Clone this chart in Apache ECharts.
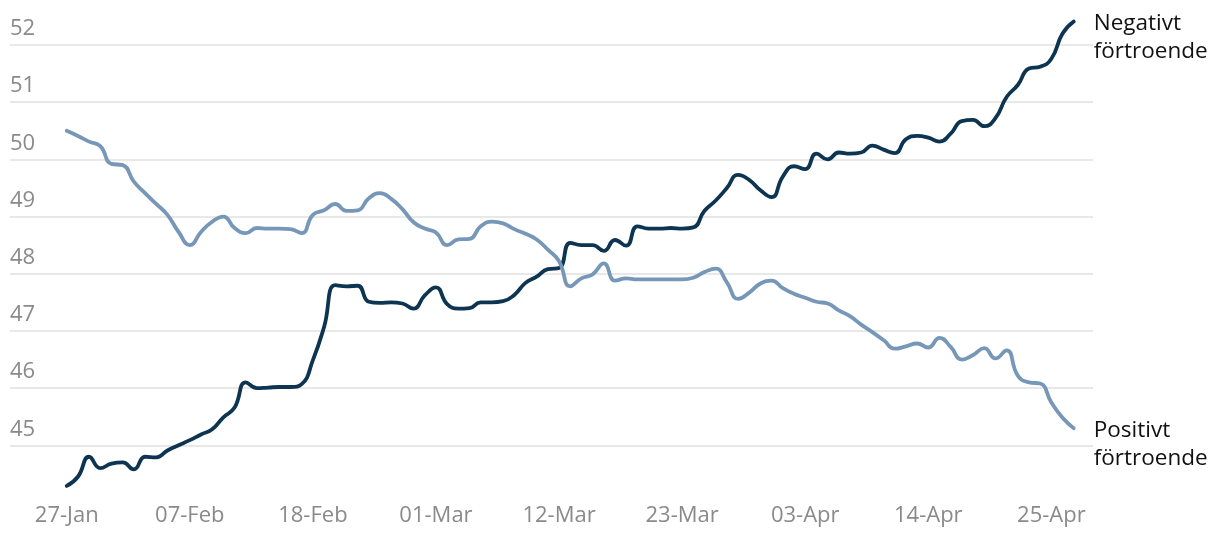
<!DOCTYPE html>
<html>
<head>
<meta charset="utf-8">
<script src="https://cdn.jsdelivr.net/npm/echarts@6/dist/echarts.min.js"></script>
<style>
html,body{margin:0;padding:0;background:#fff;}
#c{width:1220px;height:538px;}
</style>
</head>
<body>
<div id="c"></div>
<script>
// Day index 0 = 27-Jan, one value per day up to 27-Apr
const tickDays = [0, 11, 22, 33, 44, 55, 66, 77, 88];
const tickLabels = ['27-Jan', '07-Feb', '18-Feb', '01-Mar', '12-Mar', '23-Mar', '03-Apr', '14-Apr', '25-Apr'];
const seriesNames = ['Negativt\nförtroende', 'Positivt\nförtroende'];

const negative = [
  44.29, 44.45, 44.80, 44.60, 44.68, 44.70, 44.58, 44.80, 44.79, 44.91,
  45.00, 45.09, 45.19, 45.28, 45.49, 45.66, 46.10, 46.00, 46.01, 46.02,
  46.02, 46.07, 46.49, 47.07, 47.80, 47.78, 47.79, 47.51, 47.49, 47.50,
  47.48, 47.39, 47.62, 47.76, 47.47, 47.39, 47.40, 47.50, 47.50, 47.52,
  47.63, 47.84, 47.95, 48.08, 48.10, 48.54, 48.50, 48.50, 48.40, 48.59,
  48.49, 48.83, 48.79, 48.79, 48.80, 48.79, 48.81, 49.10, 49.28, 49.50,
  49.73, 49.64, 49.46, 49.34, 49.70, 49.88, 49.83, 50.10, 50.00, 50.12,
  50.10, 50.12, 50.24, 50.17, 50.11, 50.35, 50.41, 50.38, 50.31, 50.45,
  50.67, 50.69, 50.58, 50.72, 51.09, 51.30, 51.59, 51.62, 51.76, 52.20,
  52.41
];

const positive = [
  50.50, 50.41, 50.31, 50.23, 49.92, 49.90, 49.61, 49.41, 49.22, 49.03,
  48.73, 48.50, 48.73, 48.91, 49.00, 48.80, 48.71, 48.80, 48.79, 48.79,
  48.78, 48.71, 49.03, 49.11, 49.22, 49.10, 49.11, 49.32, 49.41, 49.31,
  49.13, 48.90, 48.79, 48.72, 48.50, 48.60, 48.61, 48.83, 48.91, 48.88,
  48.78, 48.70, 48.60, 48.42, 48.22, 47.78, 47.92, 47.99, 48.18, 47.88,
  47.92, 47.90, 47.90, 47.90, 47.90, 47.90, 47.93, 48.03, 48.09, 47.85,
  47.56, 47.67, 47.83, 47.88, 47.75, 47.65, 47.58, 47.51, 47.48, 47.36,
  47.26, 47.11, 46.98, 46.84, 46.69, 46.73, 46.78, 46.71, 46.88, 46.72,
  46.50, 46.58, 46.70, 46.52, 46.66, 46.22, 46.10, 46.08, 45.75, 45.48,
  45.30
];

const FONT = '"Open Sans", "Noto Sans", sans-serif';
const toPairs = arr => arr.map((v, i) => [i, v]);

const chart = echarts.init(document.getElementById('c'), null, {renderer: 'canvas'});

function lineSeries(name, data, color) {
  return {
    name: name,
    type: 'line',
    data: toPairs(data),
    smooth: 0.5,
    showSymbol: false,
    symbol: 'none',
    lineStyle: {color: color, width: 3.8, cap: 'round', join: 'round'},
    itemStyle: {color: color},
    emphasis: {disabled: true},
    endLabel: {
      show: true,
      formatter: () => name,
      color: '#111',
      fontFamily: FONT,
      fontSize: 22.5,
      lineHeight: 28,
      align: 'left',
      verticalAlign: 'top',
      distance: 5,
      offset: [15, -12]
    }
  };
}

chart.setOption({
  animation: false,
  backgroundColor: '#fff',
  grid: {
    left: 10, right: 127, top: 16.4, bottom: 35.5,
    containLabel: false,
    outerBoundsMode: 'none'
  },
  xAxis: {
    type: 'value',
    min: -5.07,
    max: 91.72,
    axisLine: {show: false},
    axisTick: {show: false},
    splitLine: {show: false},
    axisLabel: {
      customValues: tickDays,
      formatter: v => {
        const i = tickDays.indexOf(Math.round(v));
        return i >= 0 ? tickLabels[i] : '';
      },
      color: '#8a8a8a',
      fontFamily: FONT,
      fontSize: 22,
      margin: 2
    }
  },
  yAxis: {
    type: 'value',
    min: 44,
    max: 52.5,
    interval: 1,
    axisLine: {show: false},
    axisTick: {show: false},
    splitLine: {
      show: true,
      showMinLine: false,
      showMaxLine: false,
      lineStyle: {color: '#e0e0e0', width: 1.5}
    },
    axisLabel: {
      inside: true,
      showMinLabel: false,
      showMaxLabel: false,
      formatter: v => (Number.isInteger(v) && v > 44) ? String(v) : '',
      align: 'left',
      verticalAlign: 'bottom',
      margin: 0,
      padding: [0, 0, 5, 0],
      color: '#8a8a8a',
      fontFamily: FONT,
      fontSize: 22
    }
  },
  series: [
    lineSeries(seriesNames[0], negative, '#0d3451'),
    lineSeries(seriesNames[1], positive, '#7697b7')
  ]
});
</script>
</body>
</html>
